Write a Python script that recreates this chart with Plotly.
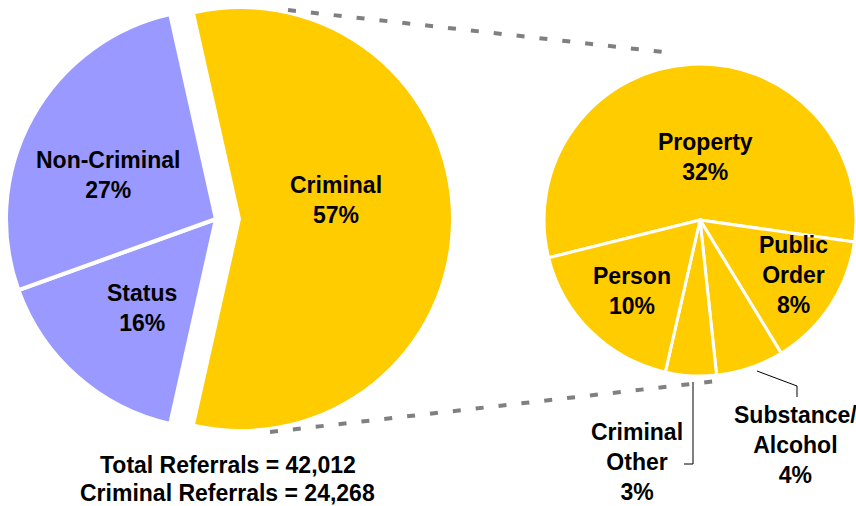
import plotly.graph_objects as go

# ---- data ----
main_labels = ["Criminal", "Status", "Non-Criminal"]
main_values = [57, 16, 27]

crim_labels = ["Property", "Public Order", "Substance/Alcohol", "Criminal Other", "Person"]
crim_display = ["Property", "Public<br>Order", "Substance/<br>Alcohol", "Criminal<br>Other", "Person"]
crim_values = [32, 8, 4, 3, 10]

total_referrals = 42012
criminal_referrals = 24268

# ---- styling ----
W, H = 856, 506
GOLD = "#FFCC00"
LAV = "#9999FF"
CLEAR = "rgba(0,0,0,0)"
FONT = dict(family="Liberation Sans, Arial, sans-serif", size=23, color="black", weight="bold")


def px(x):
    return x / W


def py(y):
    return 1 - y / H


fig = go.Figure()

# lavender part of the main pie (criminal slice transparent)
fig.add_trace(go.Pie(
    labels=main_labels, values=main_values, sort=False, direction="clockwise",
    rotation=-12.6, textinfo="none", hoverinfo="skip", showlegend=False,
    marker=dict(colors=[CLEAR, LAV, LAV],
                line=dict(color="white", width=[0, 4, 4])),
    domain=dict(x=[px(6), px(426)], y=[py(429), py(9)]),
))
# exploded criminal slice
fig.add_trace(go.Pie(
    labels=main_labels, values=main_values, sort=False, direction="clockwise",
    rotation=-12.6, textinfo="none", hoverinfo="skip", showlegend=False,
    marker=dict(colors=[GOLD, CLEAR, CLEAR],
                line=dict(color="white", width=[0, 0, 0])),
    domain=dict(x=[px(31), px(451)], y=[py(429), py(9)]),
))
# criminal breakdown pie
fig.add_trace(go.Pie(
    labels=crim_labels, values=crim_values, sort=False, direction="clockwise",
    rotation=256, textinfo="none", hoverinfo="skip", showlegend=False,
    marker=dict(colors=[GOLD] * len(crim_values),
                line=dict(color="white", width=3)),
    domain=dict(x=[px(544), 1.0], y=[py(380), py(60)]),
))

annotations = []
main_pos = {"Criminal": (336, 200), "Status": (142, 308), "Non-Criminal": (108, 175)}
for lab, val in zip(main_labels, main_values):
    x, y = main_pos[lab]
    annotations.append(dict(x=px(x), y=py(y), xref="paper", yref="paper",
                            text=f"{lab}<br>{val}%", showarrow=False,
                            xanchor="center", yanchor="middle", font=FONT))

crim_pos = {"Property": (705, 157), "Public Order": (793, 275),
            "Substance/Alcohol": (795, 445), "Criminal Other": (637, 462),
            "Person": (632, 291)}
for lab, disp, val in zip(crim_labels, crim_display, crim_values):
    x, y = crim_pos[lab]
    annotations.append(dict(x=px(x), y=py(y), xref="paper", yref="paper",
                            text=f"{disp}<br>{val}%", showarrow=False,
                            xanchor="center", yanchor="middle", font=FONT))

annotations.append(dict(x=px(228), y=py(465), xref="paper", yref="paper",
                        text=f"Total Referrals = {total_referrals:,}", showarrow=False,
                        xanchor="center", yanchor="middle", font=FONT))
annotations.append(dict(x=px(228), y=py(493), xref="paper", yref="paper",
                        text=f"Criminal Referrals = {criminal_referrals:,}", showarrow=False,
                        xanchor="center", yanchor="middle", font=FONT))

dash_line = dict(color="#808080", width=4, dash="8px,15px")
shapes = [
    dict(type="line", xref="paper", yref="paper", x0=px(288), y0=py(10), x1=px(672), y1=py(53), line=dash_line),
    dict(type="line", xref="paper", yref="paper", x0=px(270), y0=py(432), x1=px(717), y1=py(381), line=dash_line),
    dict(type="path", xref="paper", yref="paper",
         path=f"M {px(693)} {py(382)} L {px(693)} {py(464)} L {px(684)} {py(464)}",
         line=dict(color="black", width=1)),
    dict(type="path", xref="paper", yref="paper",
         path=f"M {px(757)} {py(371)} L {px(797)} {py(386)} L {px(797)} {py(397)}",
         line=dict(color="black", width=1)),
]

fig.update_layout(
    width=W, height=H,
    margin=dict(l=0, r=0, t=0, b=0),
    paper_bgcolor="white", plot_bgcolor="white",
    annotations=annotations, shapes=shapes,
    showlegend=False,
)

fig.write_html(
    "out.html",
    config={"displayModeBar": False},
    post_script="document.body.style.margin='0';document.body.style.overflow='hidden';",
)
